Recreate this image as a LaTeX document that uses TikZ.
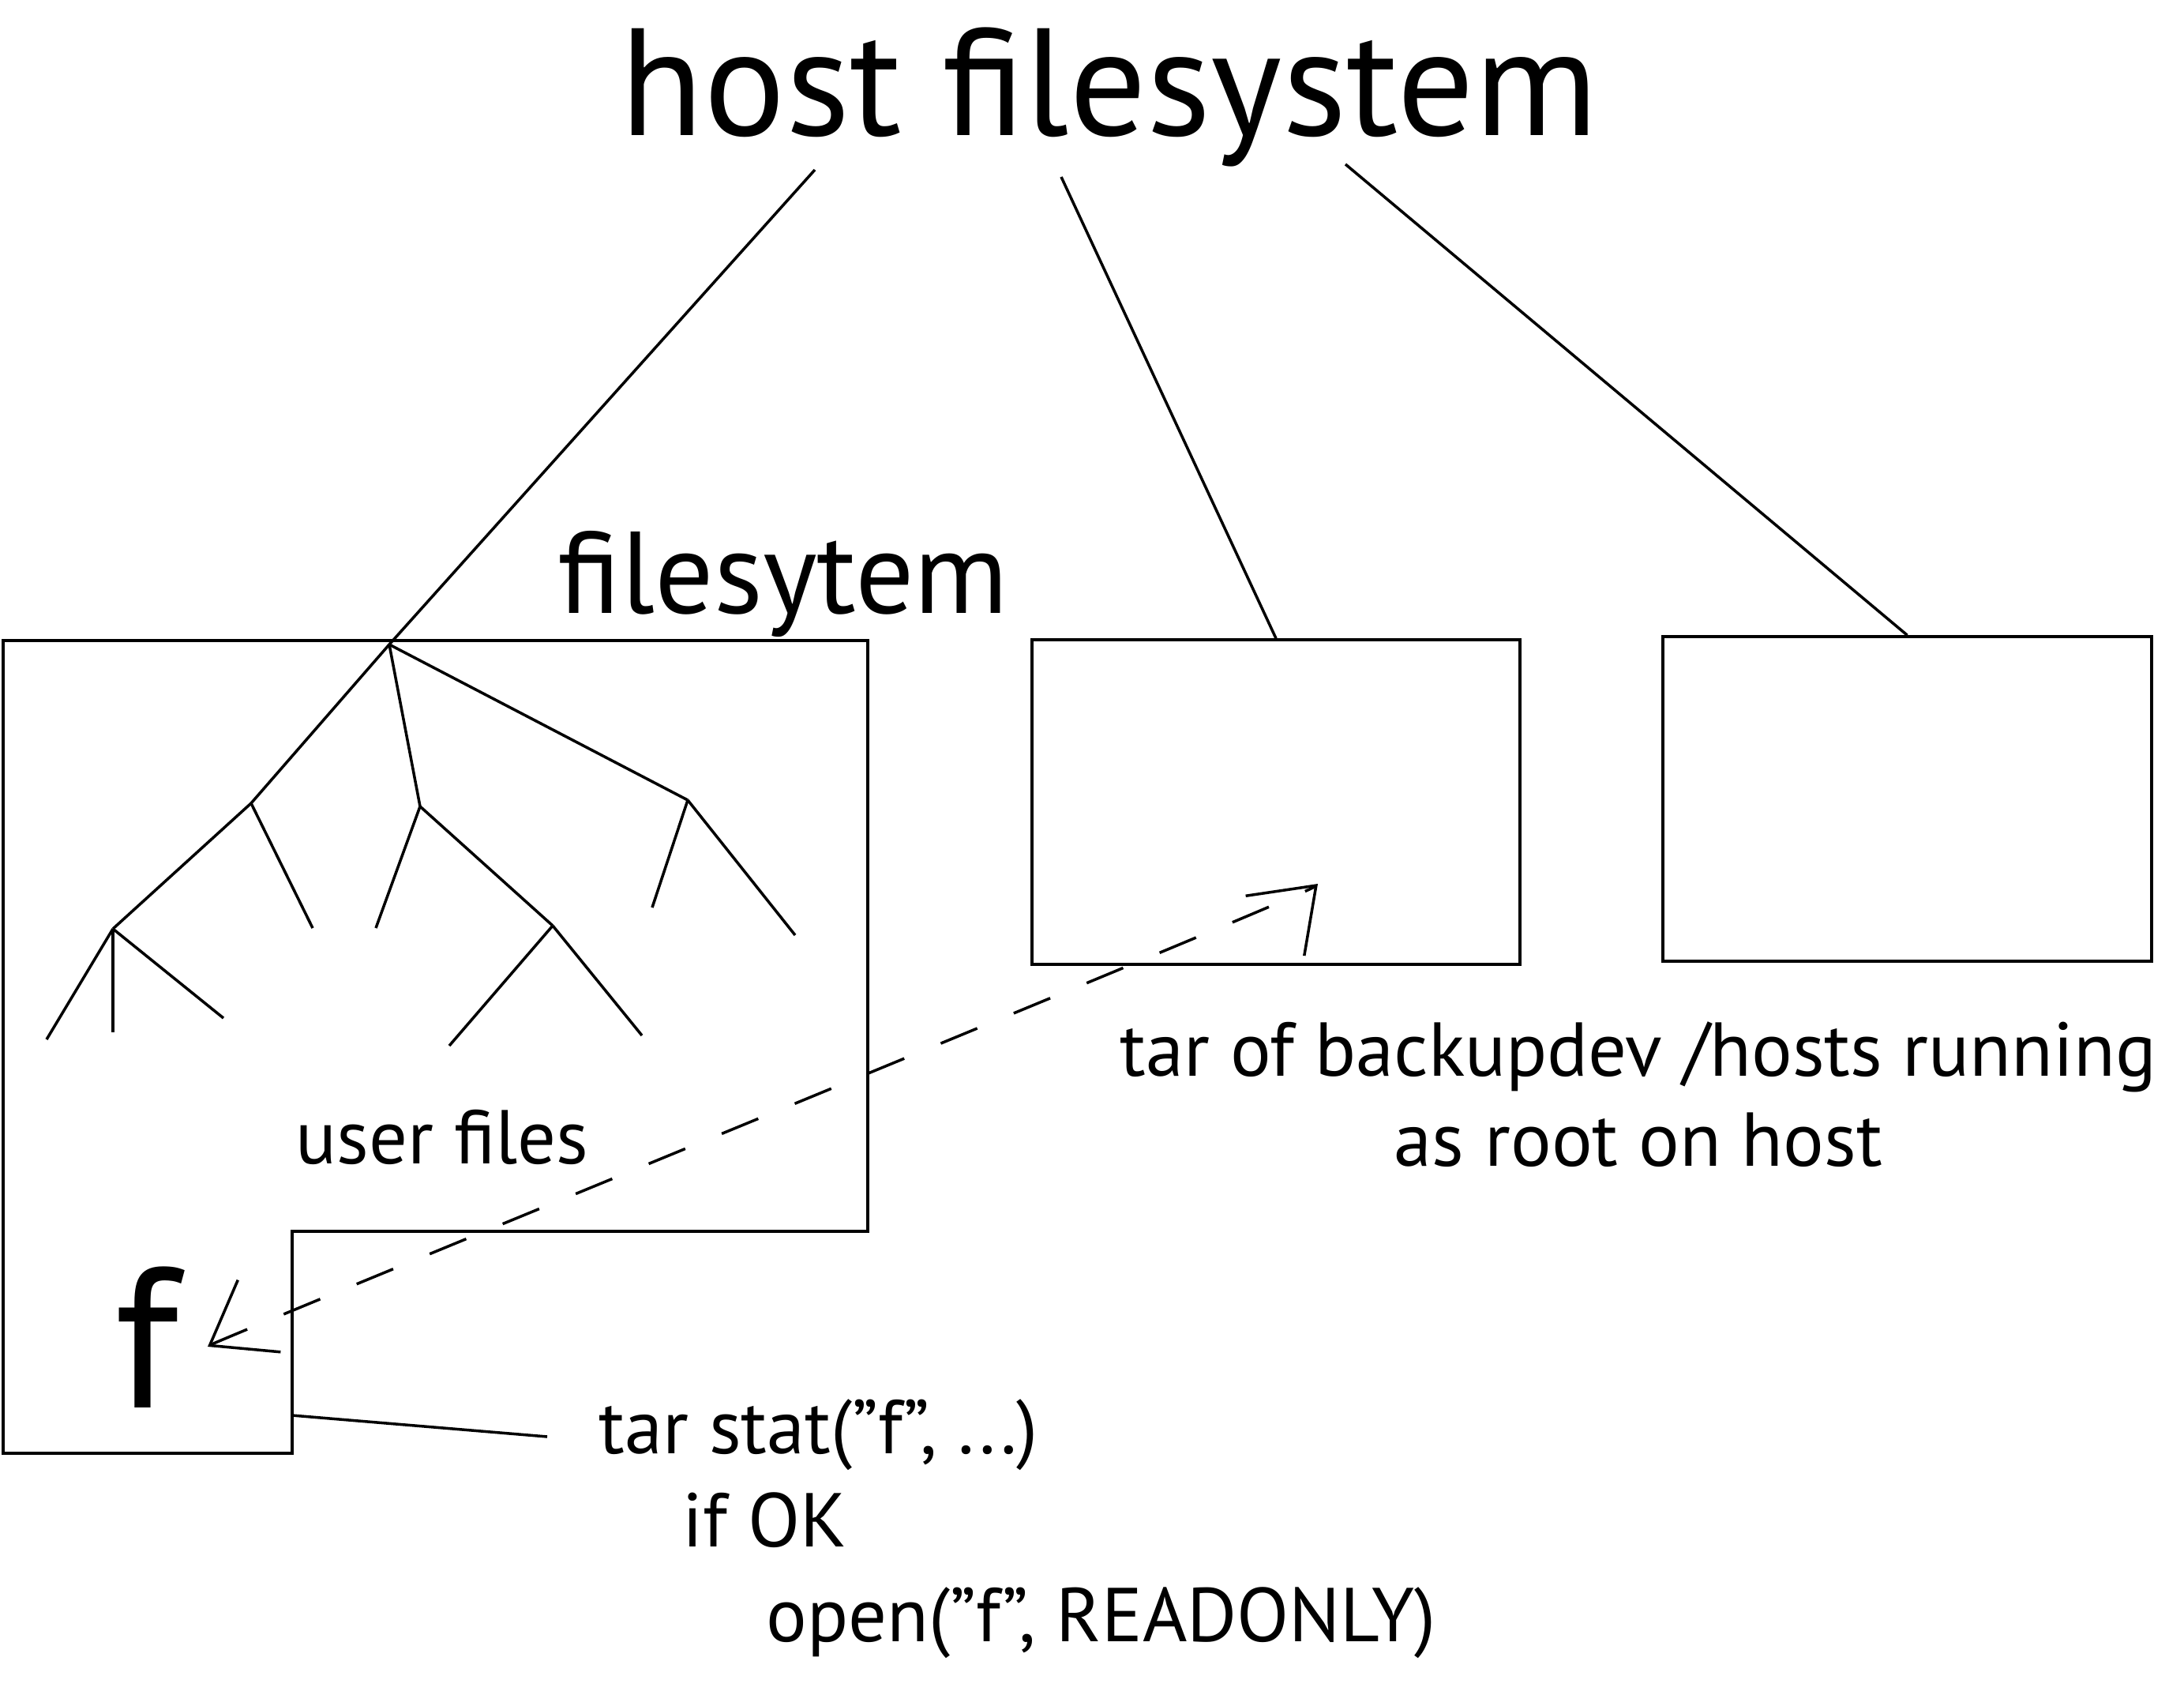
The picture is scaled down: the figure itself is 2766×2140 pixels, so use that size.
\documentclass[tikz,border=0pt]{standalone}
\usepackage{fontspec}
\setmainfont{PT Sans}
\usetikzlibrary{arrows.meta}

\tikzset{
  fsline/.style={line width=1pt},
  fsbox/.style={draw, line width=1pt, inner sep=0pt},
  txt/.style={inner sep=0pt, anchor=base west},
  small/.style={font=\fontsize{27.5}{32.3}\selectfont},
  copyarrow/.style={line width=1pt, dash pattern=on 5mm off 5mm,
    {Straight Barb[length=7.3mm,width=10.6mm]}-{Straight Barb[length=7.3mm,width=10.6mm]}}
}

\begin{document}
\begin{tikzpicture}[x=0.1mm,y=-0.1mm]
\useasboundingbox (0,0) rectangle (2766,2140);
% titles
\node[txt,font=\fontsize{55}{60}\selectfont] (host) at (785,171) {host filesystem};
\node[txt,font=\fontsize{41.9}{46}\selectfont] (fs) at (706,776) {filesytem};
% the three filesystems
\draw[fsbox] (4,811) -- (1099,811) -- (1099,1559) -- (370,1559) -- (370,1840) -- (4,1840) -- cycle;
\node[fsbox,minimum width=61.8mm,minimum height=41.1mm] (backup) at (1616,1015.5) {};
\node[fsbox,minimum width=61.9mm,minimum height=41.1mm] (other) at (2415.5,1011.5) {};
\coordinate (h1) at (1032,215);
\coordinate (h2) at (1344,224);
\coordinate (h3) at (1704,208);
% user file tree
\coordinate (root) at (493,816);
\coordinate (ta) at (318,1017);
\coordinate (tb) at (532,1021);
\coordinate (tc) at (871,1013);
\coordinate (td) at (143,1176);
\coordinate (te) at (700,1172);
\draw[fsline] (h1) -- (root);
\draw[fsline] (h2) -- (backup.north);
\draw[fsline] (h3) -- (other.north);
\draw[fsline] (root) -- (ta) -- (td);
\draw[fsline] (root) -- (tb) -- (te);
\draw[fsline] (root) -- (tc);
\draw[fsline] (ta) -- (396,1175);
\draw[fsline] (tb) -- (476,1175);
\draw[fsline] (tc) -- (826,1149);
\draw[fsline] (tc) -- (1007,1184);
\foreach \lx/\ly in {59/1316,143/1307,283/1289} {\draw[fsline] (td) -- (\lx,\ly);}
\foreach \lx/\ly in {569/1324,813/1311} {\draw[fsline] (te) -- (\lx,\ly);}
\node[txt,small] (user) at (374,1473) {user files};
\node[txt,font=\fontsize{72}{80}\selectfont] (f) at (145,1782) {f};
% backup copy
\coordinate (ftip) at (263,1705);
\coordinate (btip) at (1669,1119);
\draw[copyarrow] (ftip) .. controls ([shift={(-30.7:20)}]ftip) and ([shift={(135.6:20)}]btip) .. (btip);
\node[small,align=center,inner sep=0pt,anchor=base] (tar) at (2075,1476)
  {tar of backupdev /hosts running\\ as root on host};
\node[txt,small] (stat) at (758,1840) {tar stat(”f”, ...)};
\node[txt,small] (ifok) at (864,1958) {if OK};
\node[txt,small] (open) at (970,2078) {open(”f”, READONLY)};
\coordinate (fcorner) at (370,1792);
\coordinate (statend) at (693,1819);
\draw[fsline] (fcorner) -- (statend);
\end{tikzpicture}
\end{document}
